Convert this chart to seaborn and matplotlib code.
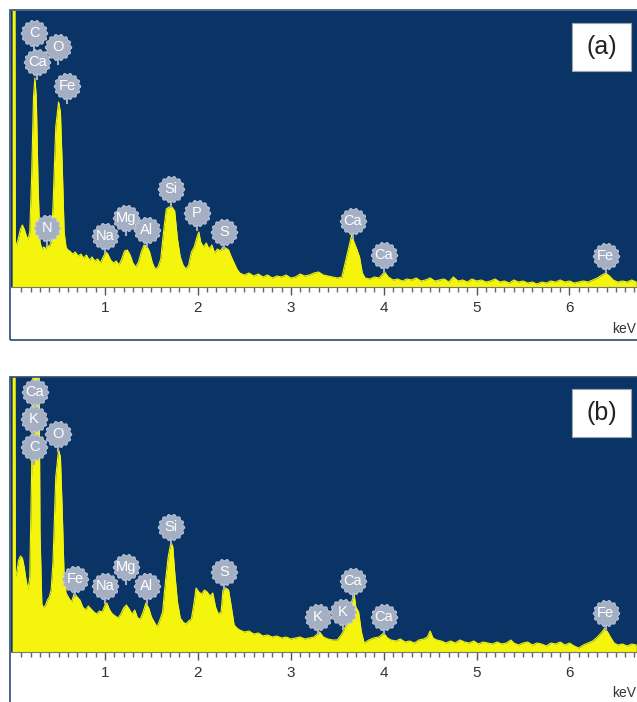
import numpy as np
import pandas as pd
import matplotlib
matplotlib.use("Agg")
import matplotlib.pyplot as plt
import seaborn as sns
from matplotlib.patches import Rectangle
from matplotlib.path import Path

# ---------------------------------------------------------------------------
# spectrum (a): energy in keV, counts (arbitrary)
# ---------------------------------------------------------------------------
kev_a = [0.000, 0.015, 0.030, 0.035, 0.05, 0.07, 0.09, 0.11, 0.13, 0.15, 0.17, 0.19,
         0.21, 0.23, 0.245, 0.26, 0.28, 0.30, 0.32, 0.34, 0.36, 0.38, 0.40, 0.42,
         0.44, 0.47, 0.50, 0.52, 0.54, 0.56, 0.58, 0.60, 0.62, 0.65, 0.68, 0.71,
         0.74, 0.77, 0.80, 0.83, 0.86, 0.89, 0.92, 0.95, 0.98, 1.01, 1.03, 1.06,
         1.09, 1.12, 1.15, 1.18, 1.21, 1.24, 1.27, 1.30, 1.33, 1.36, 1.39, 1.42,
         1.45, 1.48, 1.51, 1.54, 1.57, 1.60, 1.63, 1.66, 1.69, 1.72, 1.75, 1.78,
         1.81, 1.84, 1.87, 1.90, 1.93, 1.96, 1.99, 2.01, 2.03, 2.06, 2.09, 2.12,
         2.15, 2.18, 2.21, 2.24, 2.27, 2.30, 2.33, 2.36, 2.39, 2.42, 2.45, 2.50,
         2.55, 2.60, 2.65, 2.70, 2.75, 2.80, 2.85, 2.90, 2.95, 3.00, 3.05, 3.10,
         3.15, 3.20, 3.25, 3.30, 3.35, 3.40, 3.45, 3.50, 3.55, 3.58, 3.62, 3.655,
         3.68, 3.71, 3.74, 3.77, 3.80, 3.85, 3.90, 3.95, 4.01, 4.05, 4.10, 4.15,
         4.20, 4.25, 4.30, 4.35, 4.40, 4.45, 4.50, 4.55, 4.60, 4.65, 4.70, 4.75,
         4.80, 4.85, 4.90, 4.95, 5.00, 5.05, 5.10, 5.15, 5.20, 5.25, 5.30, 5.35,
         5.40, 5.45, 5.50, 5.55, 5.60, 5.65, 5.70, 5.75, 5.80, 5.85, 5.90, 5.95,
         6.00, 6.05, 6.10, 6.15, 6.20, 6.25, 6.30, 6.35, 6.39, 6.43, 6.47, 6.52,
         6.57, 6.62, 6.67, 6.72]
cnt_a = [300, 300, 300, 45, 42, 50, 58, 62, 58, 52, 47, 55,
         110, 190, 209, 190, 100, 45, 38, 40, 38, 42, 40, 45,
         80, 160, 185, 175, 120, 55, 40, 37, 36, 33, 35, 31,
         33, 29, 32, 27, 30, 26, 28, 24, 30, 35, 33, 27,
         24, 26, 22, 28, 36, 37, 32, 24, 20, 25, 35, 42,
         41, 35, 24, 18, 20, 28, 55, 78, 80, 80, 76, 48,
         30, 22, 18, 22, 35, 40, 50, 55, 45, 40, 44, 38,
         42, 34, 38, 36, 40, 39, 37, 30, 24, 18, 14, 12,
         14, 11, 13, 10, 12, 9, 11, 10, 12, 9, 10, 13,
         11, 12, 14, 15, 12, 11, 10, 9, 10, 22, 38, 52,
         45, 38, 30, 14, 9, 8, 10, 9, 15, 10, 7, 8,
         6, 8, 7, 9, 6, 7, 9, 6, 7, 8, 5, 10,
         6, 7, 5, 8, 6, 7, 5, 6, 8, 5, 6, 4,
         7, 5, 6, 4, 5, 3, 5, 4, 6, 5, 7, 5,
         6, 4, 5, 6, 5, 7, 9, 12, 14, 11, 7, 5,
         6, 5, 7, 5]

# ---------------------------------------------------------------------------
# spectrum (b)
# ---------------------------------------------------------------------------
kev_b = [0.000, 0.015, 0.030, 0.035, 0.05, 0.07, 0.09, 0.11, 0.13, 0.15, 0.17, 0.19,
         0.21, 0.225, 0.29, 0.30, 0.32, 0.34, 0.36, 0.38, 0.40, 0.42, 0.44, 0.47,
         0.50, 0.52, 0.54, 0.56, 0.58, 0.61, 0.64, 0.67, 0.70, 0.73, 0.76, 0.79,
         0.82, 0.85, 0.88, 0.91, 0.94, 0.97, 1.00, 1.02, 1.05, 1.08, 1.11, 1.14,
         1.17, 1.20, 1.23, 1.26, 1.29, 1.32, 1.35, 1.38, 1.41, 1.44, 1.47, 1.50,
         1.53, 1.56, 1.59, 1.62, 1.65, 1.68, 1.71, 1.73, 1.75, 1.78, 1.81, 1.84,
         1.87, 1.90, 1.93, 1.96, 1.98, 2.01, 2.04, 2.07, 2.10, 2.13, 2.16, 2.19,
         2.22, 2.25, 2.27, 2.30, 2.33, 2.36, 2.39, 2.42, 2.45, 2.50, 2.55, 2.60,
         2.65, 2.70, 2.75, 2.80, 2.85, 2.90, 2.95, 3.00, 3.05, 3.10, 3.15, 3.20,
         3.25, 3.31, 3.35, 3.40, 3.45, 3.50, 3.55, 3.58, 3.62, 3.655, 3.68, 3.70,
         3.73, 3.76, 3.79, 3.84, 3.89, 3.95, 4.00, 4.04, 4.08, 4.13, 4.18, 4.23,
         4.28, 4.33, 4.38, 4.43, 4.47, 4.50, 4.53, 4.57, 4.62, 4.67, 4.72, 4.77,
         4.82, 4.87, 4.92, 4.97, 5.02, 5.07, 5.12, 5.17, 5.22, 5.27, 5.32, 5.37,
         5.40, 5.45, 5.50, 5.55, 5.60, 5.65, 5.70, 5.75, 5.80, 5.85, 5.90, 5.95,
         6.00, 6.05, 6.10, 6.15, 6.20, 6.25, 6.30, 6.35, 6.38, 6.41, 6.44, 6.48,
         6.52, 6.57, 6.62, 6.67, 6.72]
cnt_b = [300, 300, 300, 75, 80, 92, 96, 94, 85, 72, 62, 75,
         180, 300, 300, 120, 48, 44, 47, 52, 55, 62, 90, 175,
         202, 195, 140, 75, 59, 54, 50, 59, 55, 52, 45, 42,
         46, 43, 40, 38, 41, 40, 47, 49, 42, 38, 36, 34,
         38, 44, 47, 43, 38, 42, 34, 33, 40, 49, 44, 35,
         30, 25, 32, 40, 70, 95, 110, 105, 80, 50, 34, 30,
         28, 31, 33, 50, 64, 60, 58, 62, 60, 56, 59, 45,
         38, 40, 62, 64, 62, 45, 27, 24, 22, 20, 21, 18,
         19, 16, 17, 15, 16, 14, 15, 13, 14, 15, 13, 14,
         15, 20, 15, 13, 12, 12, 18, 24, 30, 50, 59, 45,
         40, 20, 9, 12, 14, 15, 19, 14, 12, 11, 13, 10,
         11, 9, 12, 13, 15, 21, 14, 12, 11, 9, 11, 9,
         12, 10, 9, 11, 8, 10, 9, 8, 10, 8, 9, 12,
         9, 7, 9, 10, 7, 9, 8, 6, 9, 8, 10, 7,
         9, 6, 4, 7, 9, 11, 15, 20, 24, 20, 15, 9,
         7, 8, 6, 8, 7]

# element labels: name, energy (keV), height of the label centre
lab_a_name = ["C", "Ca", "O", "Fe", "N", "Na", "Mg", "Al", "Si", "P", "S", "Ca", "Ca", "Fe"]
lab_a_kev = [0.236, 0.27, 0.49, 0.59, 0.375, 1.0, 1.23, 1.45, 1.71, 1.99, 2.28, 3.67, 4.0, 6.39]
lab_a_y = [254, 225, 240, 201, 59, 51, 69, 57, 98, 74, 55, 66, 32, 31]

lab_b_name = ["Ca", "K", "C", "O", "Fe", "Na", "Mg", "Al", "Si", "S", "K", "K", "Ca", "Ca", "Fe"]
lab_b_kev = [0.247, 0.236, 0.236, 0.494, 0.677, 1.0, 1.227, 1.452, 1.71, 2.28, 3.29, 3.56, 3.67, 4.0, 6.39]
lab_b_y = [260, 233, 205, 218, 73, 66, 85, 66, 125, 80, 35, 40, 71, 35, 39]

x_ticks = [1, 2, 3, 4, 5, 6]

NAVY = "#0b3466"
YELLOW = "#f4f40c"
BUBBLE = "#a4afc4"
W, H = 637, 702

sns.set_theme(style="white")
plt.rcParams['font.family'] = ['Liberation Sans', 'DejaVu Sans']

# bumpy circle used for the element bubbles
theta = np.linspace(0, 2 * np.pi, 97)
rad = 1 + 0.07 * np.cos(14 * theta)
bubble = Path(np.column_stack([rad * np.cos(theta), rad * np.sin(theta)]), closed=True)

fig = plt.figure(figsize=(W / 100, H / 100), dpi=100)


def px_axes(left, top, right, bottom):
    return fig.add_axes([left / W, 1 - bottom / H, (right - left) / W, (bottom - top) / H])


def draw_panel(ax, kev, cnt, names, lx, ly, ymax, tag, kev_y):
    df = pd.DataFrame({"keV": kev, "counts": cnt})
    ax.set_facecolor(NAVY)
    ax.fill_between(df["keV"], 0, df["counts"], color=YELLOW, lw=0, zorder=2)
    sns.lineplot(data=df, x="keV", y="counts", ax=ax, color=YELLOW, lw=0.8,
                 estimator=None, sort=False, zorder=3)
    ax.set_xlim(-0.012, 6.727)
    ax.set_ylim(0, ymax)
    ax.set_xlabel("")
    ax.set_ylabel("")
    ax.set_yticks([])
    ax.set_xticks(x_ticks)
    ax.set_xticks(np.arange(0.1, 6.75, 0.1), minor=True)
    ax.tick_params(axis="x", which="major", direction="out", length=6, width=1,
                   color="#555555", labelsize=11, labelcolor="#333333", pad=4, bottom=True)
    ax.tick_params(axis="x", which="minor", direction="out", length=3.5, width=1,
                   color="#666666", bottom=True)
    for s in ["top", "right", "left"]:
        ax.spines[s].set_visible(False)
    ax.spines["bottom"].set_color("#777777")
    ax.spines["bottom"].set_linewidth(0.8)

    # stems then bubbles then labels
    ax.vlines(lx, np.array(ly) - 18, np.array(ly) - 10, color=BUBBLE, lw=1.5, zorder=4)
    ax.scatter(lx, ly, s=370, marker=bubble, color=BUBBLE, edgecolor="#c4ccdb",
               linewidth=0.6, zorder=5)
    for n, x, y in zip(names, lx, ly):
        ax.text(x, y, n, ha="center", va="center", color="white", fontsize=10.5,
                zorder=6)

    # tag box in the upper right corner
    ax.add_patch(Rectangle((0.896, 0.783), 0.094, 0.174, transform=ax.transAxes,
                           fc="white", ec="#9aa3b0", lw=0.8, zorder=7))
    ax.text(0.943, 0.868, tag, transform=ax.transAxes, ha="center", va="center",
            fontsize=18, color="#222222", zorder=8)
    fig.text(612 / W, 1 - kev_y / H, "keV", ha="left", va="center", fontsize=10,
             color="#333333")


ax_a = px_axes(11, 11, 637, 287)
draw_panel(ax_a, kev_a, cnt_a, lab_a_name, lab_a_kev, lab_a_y, 276, "(a)", 329)

ax_b = px_axes(11, 377, 637, 652)
draw_panel(ax_b, kev_b, cnt_b, lab_b_name, lab_b_kev, lab_b_y, 275, "(b)", 693)

# outer frames of the two spectrum windows
fig.add_artist(Rectangle((10 / W, 1 - 340 / H), 640 / W, 330 / H, transform=fig.transFigure,
                         fill=False, ec="#2c4a70", lw=1.2))
fig.add_artist(Rectangle((10 / W, 1 - 720 / H), 640 / W, 343 / H, transform=fig.transFigure,
                         fill=False, ec="#2c4a70", lw=1.2))

fig.savefig("out.png", dpi=100)
